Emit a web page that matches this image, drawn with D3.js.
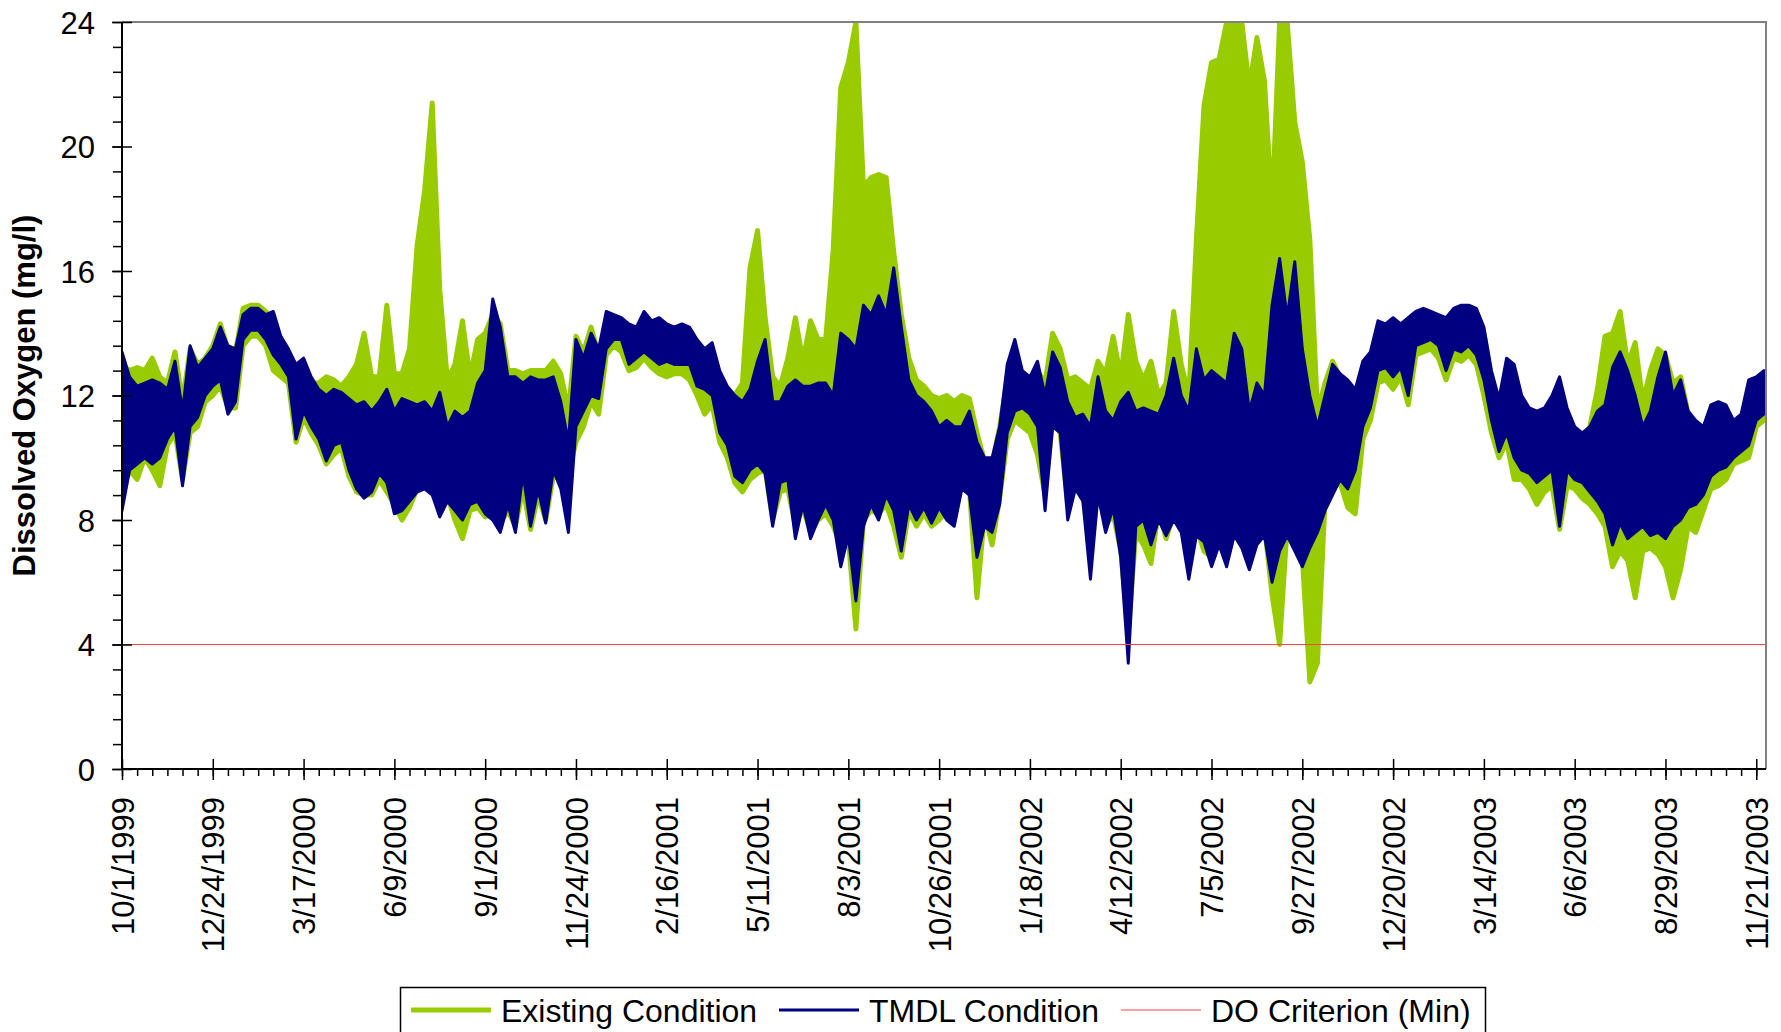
<!DOCTYPE html>
<html>
<head>
<meta charset="utf-8">
<script src="https://cdn.jsdelivr.net/npm/d3@7"></script>
<style>
  body { margin: 0; background: #fff; }
  svg { display: block; font-family: "Liberation Sans", Arial, sans-serif; }
</style>
</head>
<body>
<svg id="chart" width="1781" height="1032"></svg>
<script>
// weekly envelope (max / min), starting 10/1/1999
var startDate = Date.UTC(1999, 9, 1);
var stepDays = 7;
var lastDay = 1521;

var existingHigh = [
  13.0,12.8,12.9,12.8,13.2,12.6,12.4,13.4,11.8,13.5,13.0,13.2,
  13.6,14.3,13.5,13.4,14.8,14.9,14.9,14.7,14.4,13.7,13.3,12.8,
  13.1,12.4,12.4,12.6,12.5,12.3,12.6,13.0,14.0,12.6,12.6,14.9,
  12.7,12.7,13.5,16.8,18.6,21.4,15.4,12.5,13.0,14.4,12.6,13.8,
  14.0,14.6,14.3,12.8,12.8,12.7,12.8,12.8,12.8,13.1,12.7,11.5,
  13.9,13.4,14.2,13.3,14.4,14.4,14.3,14.1,14.0,14.5,14.2,14.3,
  14.1,14.0,14.0,13.9,13.5,13.0,13.3,12.6,12.2,12.0,12.4,16.1,
  17.3,14.5,12.6,12.3,13.2,14.5,13.1,14.4,13.8,13.8,16.7,21.9,
  22.7,24.0,18.7,19.0,19.1,19.0,16.6,14.6,13.2,12.5,12.3,12.0,
  11.9,12.0,11.8,12.0,11.9,10.8,9.9,9.8,11.0,12.5,13.5,12.6,
  12.4,12.8,12.4,14.0,13.5,12.5,12.6,12.4,12.2,13.1,12.7,13.9,
  12.6,14.6,13.1,12.5,13.1,12.0,12.4,14.7,13.0,12.0,17.0,21.3,
  22.7,22.8,24.0,24.0,24.0,21.9,23.5,22.1,18.0,24.0,24.0,20.8,
  19.5,17.0,11.5,12.4,13.1,12.6,12.2,12.0,12.9,13.2,14.2,14.0,
  14.3,14.0,14.2,14.5,14.6,14.5,14.4,14.3,14.6,14.7,14.7,14.6,
  14.0,12.5,11.6,12.9,12.7,11.7,11.4,11.3,11.4,11.8,12.2,11.4,
  10.8,10.6,11.0,12.2,13.9,14.0,14.7,13.0,13.7,11.8,12.8,13.5,
  13.3,12.4,12.6,11.4,11.0,10.9,11.5,11.6,11.5,11.0,11.2,12.2,
  12.4,12.5
];
var existingLow = [
  9.0,9.6,9.3,10.0,9.6,9.1,10.4,10.8,9.3,10.8,11.0,11.8,
  12.0,12.3,11.6,11.6,13.6,13.9,13.9,13.6,12.8,12.6,12.4,10.5,
  11.3,10.8,10.4,9.8,10.1,10.3,9.4,8.9,8.8,8.8,9.3,8.9,
  8.5,8.0,8.4,9.0,9.5,9.2,8.5,8.8,8.0,7.4,8.3,8.4,
  8.1,8.2,7.9,8.3,7.8,9.0,7.7,8.8,8.0,9.4,9.3,9.5,
  10.5,11.0,11.8,11.4,13.3,13.6,13.4,12.8,12.9,13.2,12.9,12.7,
  12.6,12.7,12.7,12.5,12.0,11.4,11.7,10.5,10.0,9.2,8.9,9.3,
  9.5,9.6,8.0,8.9,9.0,7.8,8.4,7.6,8.0,8.2,7.8,7.2,
  7.4,4.5,8.0,8.3,8.2,8.5,7.8,6.8,8.3,7.8,8.2,7.8,
  8.0,8.3,8.0,9.3,9.0,5.5,8.2,7.2,8.7,10.6,11.2,11.0,
  10.8,10.1,8.8,11.2,10.8,8.5,9.2,8.8,7.0,9.0,7.8,8.2,
  7.0,4.4,7.6,7.2,6.6,8.3,7.4,8.2,7.8,7.0,7.8,7.0,
  6.8,7.4,6.8,7.8,7.2,6.8,7.4,7.8,5.6,4.0,7.8,7.4,
  6.8,2.8,3.4,8.6,9.0,9.2,8.4,8.2,10.6,11.2,12.4,12.5,
  12.2,12.6,11.7,13.3,13.4,13.5,13.2,12.5,13.2,13.1,13.3,13.0,
  12.0,10.8,10.0,10.5,9.3,9.3,9.0,8.5,8.9,9.1,7.7,9.1,
  9.0,8.7,8.5,8.2,7.8,6.5,7.0,6.7,5.5,7.0,7.1,6.9,
  6.5,5.5,6.4,7.8,7.6,8.3,9.0,9.1,9.3,9.8,9.9,10.0,
  11.0,11.2
];
var tmdlHigh = [
  13.4,12.6,12.3,12.4,12.5,12.4,12.2,13.1,11.5,13.6,12.9,13.2,
  13.5,14.2,13.6,13.5,14.6,14.8,14.8,14.6,14.7,13.9,13.5,13.0,
  13.2,12.6,12.2,12.0,12.2,12.1,11.9,11.7,11.8,11.5,11.8,12.2,
  11.5,11.9,11.8,11.7,11.8,11.5,12.1,11.0,11.5,11.3,11.5,12.4,
  12.8,15.1,14.2,12.6,12.6,12.4,12.6,12.5,12.5,12.6,11.8,10.5,
  13.8,13.2,14.0,13.5,14.7,14.6,14.5,14.3,14.2,14.7,14.4,14.5,
  14.3,14.2,14.3,14.2,13.8,13.5,13.7,12.8,12.3,12.0,11.8,12.2,
  13.1,13.8,11.8,11.8,12.3,12.5,12.3,12.3,12.4,12.4,12.0,14.0,
  13.8,13.5,14.9,14.6,15.2,14.6,16.1,14.2,12.5,12.0,11.8,11.5,
  11.0,11.2,11.0,11.0,11.5,10.5,10.0,10.0,11.0,13.0,13.8,12.8,
  12.6,13.1,12.0,13.4,12.9,11.8,11.3,11.4,11.0,12.6,11.5,11.2,
  11.8,12.1,11.5,11.6,11.5,11.4,12.0,13.2,12.0,11.5,13.5,12.5,
  12.8,12.6,12.4,14.0,13.5,11.5,12.4,12.0,14.9,16.4,14.5,16.3,
  13.5,12.0,11.0,12.0,13.0,12.7,12.5,12.2,13.1,13.4,14.4,14.3,
  14.5,14.3,14.5,14.7,14.8,14.7,14.6,14.5,14.8,14.9,14.9,14.8,
  14.2,12.8,11.9,13.2,13.0,12.0,11.6,11.5,11.6,12.0,12.6,11.6,
  11.0,10.8,11.0,11.5,11.7,12.9,13.4,12.8,12.0,11.0,11.5,12.6,
  13.4,12.0,12.5,11.5,11.2,11.0,11.7,11.8,11.7,11.2,11.4,12.5,
  12.6,12.8
];
var tmdlLow = [
  8.3,9.6,9.8,10.0,9.8,10.0,10.6,11.0,9.1,11.0,11.3,12.0,
  12.3,12.5,11.4,11.8,13.8,14.1,14.1,13.8,13.3,13.0,12.6,10.6,
  11.5,11.0,10.6,9.9,10.4,10.5,9.6,9.0,8.7,8.9,9.5,9.2,
  8.2,8.3,8.6,8.9,9.0,8.8,8.1,8.6,8.3,8.0,8.5,8.6,
  8.2,8.0,7.6,8.5,7.6,9.5,7.8,9.0,7.9,9.6,9.0,7.6,
  11.0,11.5,12.0,11.9,13.5,13.8,13.8,13.0,13.2,13.4,13.2,13.0,
  13.1,13.0,13.0,13.0,12.3,12.2,12.0,10.8,10.4,9.4,9.2,9.6,
  9.8,9.5,7.8,9.2,9.3,7.4,8.5,7.4,8.0,8.5,8.0,6.5,
  7.5,5.4,7.8,8.5,8.0,8.8,8.3,7.0,8.5,8.0,8.4,7.9,
  8.4,8.0,7.8,9.0,8.8,6.8,7.8,7.6,8.5,10.8,11.5,11.6,
  11.4,11.0,8.3,11.0,10.8,8.0,9.0,8.6,6.1,8.8,7.6,8.4,
  6.8,3.4,7.8,8.0,7.2,8.0,7.5,8.0,7.6,6.1,7.5,7.3,
  6.5,7.2,6.5,7.5,7.1,6.4,7.2,7.5,6.0,7.0,7.5,7.0,
  6.5,7.1,7.6,8.3,8.8,9.3,9.0,9.6,11.0,11.6,12.8,12.9,
  12.6,12.9,12.0,13.6,13.7,13.8,13.6,12.8,13.5,13.4,13.6,13.3,
  12.5,11.2,10.2,10.8,10.0,9.6,9.5,9.2,9.4,9.6,7.8,9.6,
  9.3,9.2,8.9,8.6,8.2,7.2,7.9,7.4,7.6,7.8,7.5,7.6,
  7.4,7.8,8.0,8.4,8.5,8.8,9.4,9.6,9.7,10.0,10.2,10.4,
  11.2,11.4
];
var criterion = 4;
var yTicks = [0, 4, 8, 12, 16, 20, 24];
var tickStepDays = 84;
var minorStepDays = 14;

var seriesNames = ["Existing Condition", "TMDL Condition", "DO Criterion (Min)"];
var seriesColors = ["#99cc00", "#000080", "#ff4040"];

var DAY = 86400000;
function dayToDate(d) { return new Date(startDate + d * DAY); }

var svg = d3.select("#chart");
var plotLeft = 122, plotRight = 1766, plotTop = 22, plotBottom = 769;

var x = d3.scaleUtc().domain([dayToDate(0), dayToDate(lastDay)]).range([plotLeft, plotRight]);
var y = d3.scaleLinear().domain([0, 24]).range([plotBottom, plotTop]);

svg.append("defs").append("clipPath").attr("id", "plotClip")
  .append("rect").attr("x", plotLeft).attr("y", plotTop)
  .attr("width", plotRight - plotLeft).attr("height", plotBottom - plotTop);

/*
Pair weekly max / min into one record per week
*/
function band(hi, lo) {
  return hi.map(function(h, i) {
    return { date: dayToDate(i * stepDays), hi: h, lo: lo[i] };
  });
}

// the daily swings are too dense to tell apart, so each series is drawn as its filled range
var area = d3.area()
  .x(function(d) { return x(d.date); })
  .y0(function(d) { return y(d.lo); })
  .y1(function(d) { return y(d.hi); });

var plot = svg.append("g").attr("clip-path", "url(#plotClip)");
plot.append("path").datum(band(existingHigh, existingLow))
  .attr("d", area).attr("fill", seriesColors[0]).attr("stroke", seriesColors[0])
  .attr("stroke-width", 5).attr("stroke-linejoin", "round");
plot.append("path").datum(band(tmdlHigh, tmdlLow))
  .attr("d", area).attr("fill", seriesColors[1]).attr("stroke", seriesColors[1])
  .attr("stroke-width", 3).attr("stroke-linejoin", "round");
plot.append("line")
  .attr("x1", plotLeft).attr("x2", plotRight).attr("y1", y(criterion)).attr("y2", y(criterion))
  .attr("stroke", seriesColors[2]).attr("stroke-width", 1);

// frame: top and right in gray
svg.append("path").attr("d", "M" + plotLeft + "," + plotTop + "H" + plotRight + "V" + plotBottom)
  .attr("fill", "none").attr("stroke", "#808080").attr("stroke-width", 2);

// x axis
var majorDates = d3.range(0, lastDay, tickStepDays).map(dayToDate);
var minorDates = d3.range(0, lastDay, minorStepDays).map(dayToDate);

var xMinor = svg.append("g").attr("transform", "translate(0," + plotBottom + ")")
  .call(d3.axisBottom(x).tickValues(minorDates).tickSize(7).tickFormat(""));
var xMajor = svg.append("g").attr("transform", "translate(0," + plotBottom + ")")
  .call(d3.axisBottom(x).tickValues(majorDates).tickSize(11).tickFormat(d3.utcFormat("%-m/%-d/%Y")));
xMajor.selectAll(".tick line").attr("y1", -10);
xMajor.selectAll(".tick text")
  .attr("transform", "rotate(-90)").attr("x", -28).attr("y", 0).attr("dy", "0.36em")
  .attr("text-anchor", "end").attr("font-size", 31).attr("fill", "#000")
  .style("font-family", "'Liberation Sans', Arial, sans-serif");

// y axis
var yMinorVals = d3.range(0, 31).map(function(i) { return i * 0.8; });
var yMinor = svg.append("g").attr("transform", "translate(" + plotLeft + ",0)")
  .call(d3.axisLeft(y).tickValues(yMinorVals).tickSize(9).tickFormat(""));
var yMajor = svg.append("g").attr("transform", "translate(" + plotLeft + ",0)")
  .call(d3.axisLeft(y).tickValues(yTicks).tickSize(10).tickPadding(17));
yMajor.selectAll(".tick line").attr("x1", 10);
yMajor.selectAll(".tick text").attr("font-size", 31).attr("dy", "0.36em").attr("fill", "#000")
  .style("font-family", "'Liberation Sans', Arial, sans-serif");

[xMinor, xMajor, yMinor, yMajor].forEach(function(g) {
  g.select(".domain").remove();
  g.selectAll(".tick line").attr("stroke", "#000").attr("stroke-width", 1.5);
});

// left and bottom axis lines
svg.append("path").attr("d", "M" + plotLeft + "," + plotTop + "V" + plotBottom + "H" + plotRight)
  .attr("fill", "none").attr("stroke", "#000").attr("stroke-width", 2);

// y title
svg.append("text")
  .attr("transform", "translate(35," + ((plotTop + plotBottom) / 2) + ") rotate(-90)")
  .attr("text-anchor", "middle").attr("font-size", 31).attr("font-weight", "bold")
  .text("Dissolved Oxygen (mg/l)");

// legend
var legend = svg.append("g");
legend.append("rect").attr("x", 400.5).attr("y", 987.5).attr("width", 1085).attr("height", 70)
  .attr("fill", "#fff").attr("stroke", "#000").attr("stroke-width", 1.5);
var legendX = [411, 779, 1121];
var legendW = [5, 3, 1];
seriesNames.forEach(function(name, i) {
  legend.append("line").attr("x1", legendX[i]).attr("x2", legendX[i] + 80)
    .attr("y1", 1010).attr("y2", 1010)
    .attr("stroke", seriesColors[i]).attr("stroke-width", legendW[i]);
  legend.append("text").attr("x", legendX[i] + 90).attr("y", 1010).attr("dy", "0.36em")
    .attr("font-size", 32).text(name);
});
</script>
</body>
</html>
